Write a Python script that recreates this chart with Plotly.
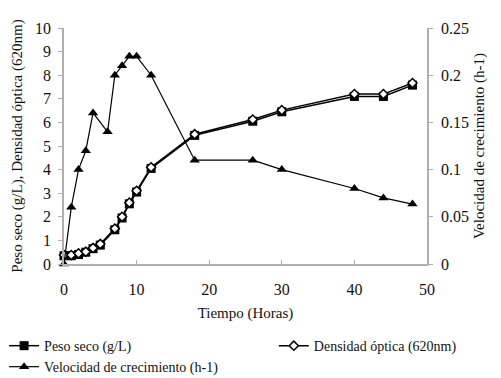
import plotly.graph_objects as go

tiempo_peso = [0, 1, 2, 3, 4, 5, 7, 8, 9, 10, 12, 18, 26, 30, 40, 44, 48]
peso_seco = [0.35, 0.35, 0.40, 0.50, 0.65, 0.80, 1.45, 1.95, 2.55, 3.05, 4.05, 5.45, 6.05, 6.45, 7.10, 7.10, 7.58]
densidad_optica = [0.38, 0.38, 0.45, 0.52, 0.68, 0.85, 1.50, 2.00, 2.60, 3.10, 4.10, 5.50, 6.12, 6.52, 7.20, 7.20, 7.67]

tiempo_vel = [0, 1, 2, 3, 4, 6, 7, 8, 9, 10, 12, 18, 26, 30, 40, 44, 48]
velocidad = [0.0, 0.06, 0.10, 0.12, 0.16, 0.14, 0.20, 0.21, 0.22, 0.22, 0.20, 0.11, 0.11, 0.10, 0.08, 0.07, 0.0635]

FONT = "Liberation Serif"
AX = "#b0b0b0"

fig = go.Figure()
fig.add_trace(go.Scatter(
    x=tiempo_peso, y=peso_seco, name="Peso seco (g/L)", mode="lines+markers",
    line=dict(color="black", width=1.5),
    marker=dict(symbol="square", size=9, color="black"),
    cliponaxis=False, legend="legend"))
fig.add_trace(go.Scatter(
    x=tiempo_peso, y=densidad_optica, name="Densidad óptica (620nm)", mode="lines+markers",
    line=dict(color="black", width=1.5),
    marker=dict(symbol="diamond", size=7, color="white", line=dict(color="black", width=1.5)),
    cliponaxis=False, legend="legend2"))
fig.add_trace(go.Scatter(
    x=tiempo_vel, y=velocidad, name="Velocidad de crecimiento (h-1)", mode="lines+markers",
    line=dict(color="black", width=1.2),
    marker=dict(symbol="triangle-up", size=9, color="black"),
    cliponaxis=False, yaxis="y2", legend="legend3"))

leg = dict(xanchor="left", yanchor="top", orientation="v", bgcolor="rgba(0,0,0,0)",
           font=dict(size=14, color="#111"), itemwidth=30)

fig.update_layout(
    width=501, height=378,
    margin=dict(l=64, r=74, t=28, b=114, autoexpand=False),
    paper_bgcolor="white", plot_bgcolor="white",
    font=dict(family=FONT, size=16, color="#111"),
    showlegend=True,
    xaxis=dict(range=[0, 50], dtick=10, showgrid=False, zeroline=False, automargin=False,
               showline=True, linecolor=AX, linewidth=1.5,
               ticks="inside", ticklen=4, tickcolor=AX, tickfont=dict(size=16),
               ticklabelstandoff=10,
               title=dict(text="Tiempo (Horas)", standoff=11, font=dict(size=15))),
    yaxis=dict(range=[0, 10], dtick=1, showgrid=False, zeroline=False, automargin=False,
               showline=True, linecolor=AX, linewidth=1.5,
               ticks="outside", ticklen=4, tickcolor=AX, tickfont=dict(size=16),
               ticklabelstandoff=4,
               title=dict(text="Peso seco (g/L), Densidad óptica (620nm)", standoff=9,
                          font=dict(size=15))),
    yaxis2=dict(range=[0, 0.25], dtick=0.05, overlaying="y", side="right", automargin=False,
                showgrid=False, zeroline=False,
                showline=True, linecolor=AX, linewidth=1.5,
                ticks="outside", ticklen=4, tickcolor=AX, tickfont=dict(size=16),
                ticklabelstandoff=5,
                title=dict(text="Velocidad de crecimiento (h-1)", standoff=6,
                           font=dict(size=15))),
    legend=dict(x=-0.165, y=-0.28, **leg),
    legend2=dict(x=0.578, y=-0.28, **leg),
    legend3=dict(x=-0.165, y=-0.369, **leg),
)

fig.write_html("out.html", config={"displayModeBar": False},
               post_script="document.body.style.margin='0';")
